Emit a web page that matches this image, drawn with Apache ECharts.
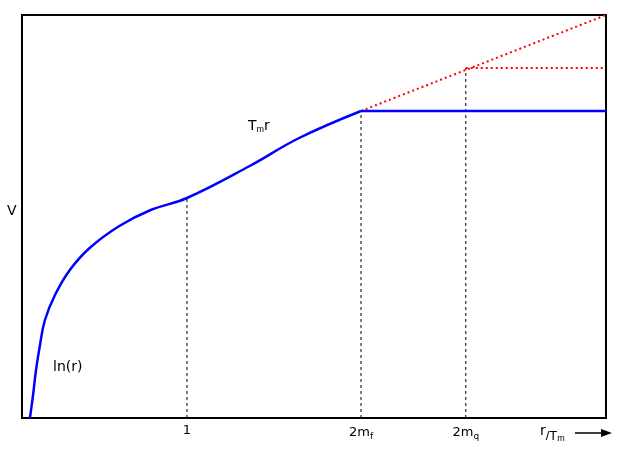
<!DOCTYPE html>
<html><head><meta charset="utf-8">
<script src="https://cdn.jsdelivr.net/npm/echarts@6/dist/echarts.min.js"></script>
<style>html,body{margin:0;padding:0;background:#fff}#c{width:627px;height:456px}</style>
</head><body><div id="c"></div>
<script>
const curveX=[0.048,0.067,0.085,0.109,0.139,0.2,0.29,0.41,0.59,0.78,1,1.38,1.68,2.055];
const curveY=[0,0.23,0.48,0.73,0.98,1.23,1.48,1.70,1.92,2.08,2.2,2.52,2.8,3.07];
const tickVals=[1,2.055,2.69];
const tickLabels=['1','2m{s|f}','2m{s|q}'];
const dropY=[2.2,3.07,3.5];
const xMax=3.54, yMax=4.03;
const flatBlueY=3.07, flatRedY=3.5, redEndY=4.03;

const chart=echarts.init(document.getElementById('c'));
const dashed=tickVals.map((x,i)=>({type:'line',data:[[x,0],[x,dropY[i]]],symbol:'none',silent:true,
  lineStyle:{color:'#000',width:1,type:[3,3]}}));
chart.setOption({
  animation:false,
  grid:{left:22,right:21,top:15,bottom:38,show:true,borderColor:'#000',borderWidth:2},
  xAxis:{type:'value',min:0,max:xMax,splitLine:{show:false},axisLine:{show:false},
    axisTick:{show:false},
    axisLabel:{customValues:tickVals,color:'#000',fontSize:13,fontFamily:'DejaVu Sans',margin:6,
      formatter:v=>tickLabels[tickVals.indexOf(v)]||'',
      rich:{s:{fontSize:9,verticalAlign:'bottom',padding:[8,0,0,0],color:'#000'}}}},
  yAxis:{type:'value',min:0,max:yMax,show:false},
  series:[
    ...dashed,
    {type:'line',data:[[2.055,flatBlueY],[xMax,redEndY]],symbol:'none',lineStyle:{color:'#f00',width:2,type:[2,3]}},
    {type:'line',data:[[2.69,flatRedY],[xMax,flatRedY]],symbol:'none',lineStyle:{color:'#f00',width:2,type:[2,3]}},
    {type:'line',data:curveX.map((x,i)=>[x,curveY[i]]),smooth:0.4,symbol:'none',lineStyle:{color:'#00f',width:2.5}},
    {type:'line',data:[[2.055,flatBlueY],[xMax,flatBlueY]],symbol:'none',lineStyle:{color:'#00f',width:2.5}}
  ],
  graphic:[
    {type:'text',left:7,top:204,style:{text:'V',fontSize:14,fontFamily:'DejaVu Sans',fill:'#000'}},
    {type:'text',left:53,top:360,style:{text:'ln(r)',fontSize:14,fontFamily:'DejaVu Sans',fill:'#000'}},
    {type:'text',left:248,top:119,style:{text:'T{s|m}r',fontSize:14,fontFamily:'DejaVu Sans',fill:'#000',
      rich:{s:{fontSize:9,verticalAlign:'bottom',padding:[8,0,0,0]}}}},
    {type:'text',left:540,top:424,style:{text:'r{s|/T}{t|m}',fontSize:14,fontFamily:'DejaVu Sans',fill:'#000',
      rich:{s:{fontSize:13,padding:[10,0,0,0]},t:{fontSize:9,padding:[16,0,0,0]}}}},
    {type:'line',shape:{x1:575,y1:433,x2:608,y2:433},style:{stroke:'#000',lineWidth:1.5}},
    {type:'polygon',shape:{points:[[612,433],[601,429],[601,437]]},style:{fill:'#000'}}
  ]
});
</script></body></html>
